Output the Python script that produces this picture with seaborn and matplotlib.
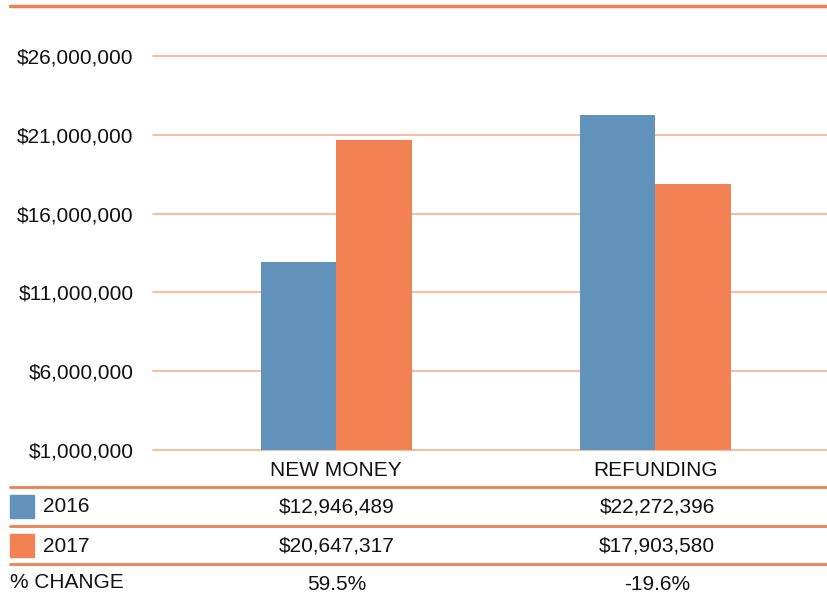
import matplotlib
matplotlib.use("Agg")
import matplotlib.pyplot as plt
import matplotlib.ticker as mticker
import pandas as pd
import seaborn as sns

# data
categories = ["NEW MONEY", "REFUNDING"]
years = ["2016", "2017"]
values_2016 = [12946489, 22272396]
values_2017 = [20647317, 17903580]
pct_change = ["59.5%", "-19.6%"]
y_ticks = [1000000, 6000000, 11000000, 16000000, 21000000, 26000000]

blue = "#6193BA"
orange = "#F28253"
grid_orange = "#F8B08F"
line_orange = "#EF7E52"
txt = "#111111"
fs = 15

df = pd.DataFrame({
    "category": categories * 2,
    "year": [years[0]] * 2 + [years[1]] * 2,
    "value": values_2016 + values_2017,
})

sns.set_style("white")
plt.rcParams["font.family"] = ["Liberation Sans", "DejaVu Sans"]

W, H = 828, 594
fig = plt.figure(figsize=(W / 100, H / 100), dpi=100)

# main plot area in pixel coords: x 153..828, y 6..450
ax = fig.add_axes([153 / W, 1 - 450 / H, (828 - 153) / W, (450 - 6) / H])
sns.barplot(data=df, x="category", y="value", hue="year",
            palette=[blue, orange], width=0.473, saturation=1,
            linewidth=0, legend=False, ax=ax, zorder=3)
ax.set_ylim(1000000, 29170000)
ax.set_xlim(-0.574, 1.542)
ax.set_yticks(y_ticks)
ax.yaxis.set_major_formatter(mticker.StrMethodFormatter("${x:,.0f}"))
ax.yaxis.grid(True, color=grid_orange, linewidth=1.2, zorder=0)
for gl in ax.get_ygridlines():
    gl.set_clip_on(False)
ax.set_axisbelow(True)
for s in ax.spines.values():
    s.set_visible(False)
ax.tick_params(axis="y", length=0, pad=14, labelsize=fs, labelcolor=txt)
ax.tick_params(axis="x", length=0, pad=8, labelsize=fs, labelcolor=txt)
ax.set_xlabel("")
ax.set_ylabel("")

# overlay for the table below the chart, pixel coords
ov = fig.add_axes([0, 0, 1, 1], facecolor="none")
ov.set_xlim(0, W)
ov.set_ylim(H, 0)
ov.axis("off")

ov.plot([10, 828], [6, 6], color=line_orange, linewidth=2.5)
for yy in [487, 526, 564]:
    ov.plot([10, 828], [yy, yy], color=line_orange, linewidth=2)

col_x = [337, 657]
rows = [(years[0], values_2016, blue, 507), (years[1], values_2017, orange, 546)]
for label, vals, col, yc in rows:
    ov.add_patch(plt.Rectangle((10, yc - 12), 24, 23, color=col))
    ov.text(43, yc, label, fontsize=fs, va="center", ha="left", color=txt)
    for cx, v in zip(col_x, vals):
        ov.text(cx, yc, f"${v:,}", fontsize=fs, va="center", ha="center", color=txt)

ov.text(10, 583, "% CHANGE", fontsize=fs, va="center", ha="left", color=txt)
for cx, p in zip(col_x, pct_change):
    ov.text(cx, 584, p, fontsize=fs, va="center", ha="center", color=txt)

fig.savefig("out.png", dpi=100)
